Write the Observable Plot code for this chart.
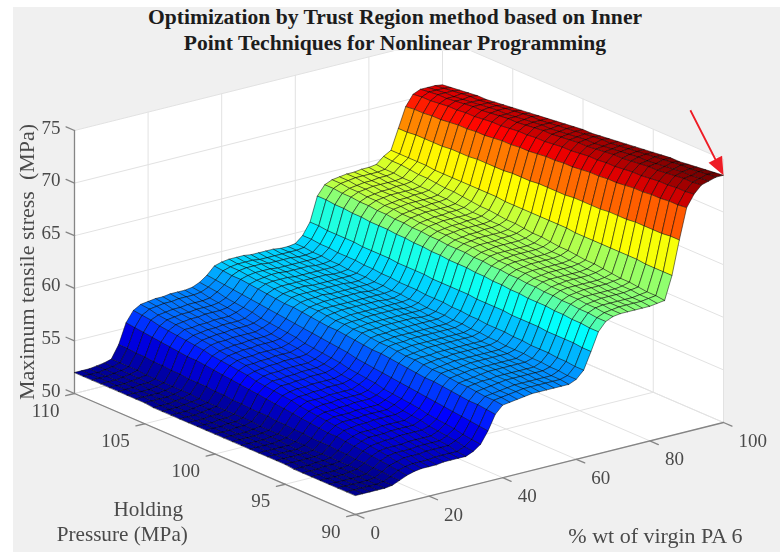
<!DOCTYPE html>
<html>
<head>
<meta charset="utf-8">
<script src="https://cdn.jsdelivr.net/npm/d3@7"></script>
<script src="https://cdn.jsdelivr.net/npm/@observablehq/plot@0.6"></script>
<style>
html,body{margin:0;padding:0;background:#fff;overflow:hidden;width:780px;height:552px}
#panel{position:absolute;left:13px;top:7px;width:767px;height:545px;background:#f0f0f0}
#title{position:absolute;left:13px;top:4px;width:764px;height:44px;z-index:2;text-align:center;
 font:bold 21.6px/26px "Liberation Serif",serif;color:#1c1c1c;margin:0;padding-left:0}
#chart{position:absolute;left:0;top:51px;width:780px;height:501px}
</style>
</head>
<body>
<div id="panel"></div>
<h1 id="title">Optimization by Trust Region method based on Inner<br>Point Techniques for Nonlinear Programming</h1>
<div id="chart"></div>
<script>
// Mesh
const wtPct = [0,2,4,6,8,10,12,14,16,18,20,22,24,26,28,30,32,34,36,38,40,42,44,46,48,50,52,54,56,58,60,62,64,66,68,70,72,74,76,78,80,82,84,86,88,90,92,94,96,98,100];
const pressure = [90,90.625,91.25,91.875,92.5,93.125,93.75,94.375,95,95.625,96.25,96.875,97.5,98.125,98.75,99.375,100,100.625,101.25,101.875,102.5,103.125,103.75,104.375,105,105.625,106.25,106.875,107.5,108.125,108.75,109.375,110];
const wtTicks = [0,20,40,60,80,100];
const pressureTicks = [90,95,100,105,110];
const stressTicks = [50,55,60,65,70,75];

// Maximum tensile stress (MPa): one row per wt %, one value per pressure
const s00 = [51.8,51.8,51.8,51.8,51.8,51.8,51.8,51.8,51.9,51.9,51.9,51.9,51.9,51.9,51.9,51.9,51.9,51.9,51.9,51.9,51.9,51.9,51.9,51.9,52,52,52,52,52,52,52,52,52];
const s06 = [51.8,51.8,51.8,51.8,51.8,51.8,51.9,51.9,51.9,51.9,51.9,51.9,51.9,51.9,51.9,51.9,52,52,52,52,52,52,52,52,52,52,52,52.1,52.1,52.1,52.1,52.1,52.1];
const s08 = [51.8,51.8,51.8,51.8,51.9,51.9,51.9,51.9,51.9,51.9,51.9,51.9,52,52,52,52,52,52,52,52,52.1,52.1,52.1,52.1,52.1,52.1,52.1,52.1,52.2,52.2,52.2,52.2,52.2];
const s10 = [51.9,51.9,51.9,51.9,52,52,52,52,52,52,52.1,52.1,52.1,52.1,52.1,52.1,52.2,52.2,52.2,52.2,52.2,52.2,52.2,52.3,52.3,52.3,52.3,52.3,52.3,52.4,52.4,52.4,52.4];
const s12 = [52.2,52.2,52.3,52.3,52.4,52.4,52.5,52.5,52.6,52.6,52.6,52.7,52.7,52.8,52.8,52.9,52.9,52.9,53,53,53.1,53.1,53.2,53.2,53.2,53.3,53.3,53.4,53.4,53.5,53.5,53.6,53.6];
const s14 = [52.5,52.6,52.7,52.8,52.9,53,53.1,53.2,53.3,53.3,53.4,53.5,53.6,53.7,53.8,53.9,54,54.1,54.2,54.3,54.4,54.5,54.6,54.7,54.8,54.8,54.9,55,55.1,55.2,55.3,55.4,55.5];
const s16 = [52.7,52.8,52.9,53.1,53.2,53.3,53.4,53.5,53.7,53.8,53.9,54,54.1,54.2,54.4,54.5,54.6,54.7,54.8,55,55.1,55.2,55.3,55.4,55.6,55.7,55.8,55.9,56,56.1,56.3,56.4,56.5];
const s18 = [52.8,52.9,53.1,53.2,53.3,53.4,53.6,53.7,53.8,54,54.1,54.2,54.3,54.5,54.6,54.7,54.9,55,55.1,55.2,55.4,55.5,55.6,55.7,55.9,56,56.1,56.3,56.4,56.5,56.6,56.8,56.9];
const s20 = [52.8,52.9,53.1,53.2,53.3,53.5,53.6,53.7,53.9,54,54.1,54.2,54.4,54.5,54.6,54.8,54.9,55,55.2,55.3,55.4,55.6,55.7,55.8,56,56.1,56.2,56.3,56.5,56.6,56.7,56.9,57];
const s22 = [52.8,52.9,53.1,53.2,53.3,53.5,53.6,53.7,53.9,54,54.1,54.3,54.4,54.5,54.7,54.8,55,55.1,55.2,55.4,55.5,55.6,55.8,55.9,56,56.2,56.3,56.4,56.6,56.7,56.8,57,57.1];
const s24 = [52.9,53,53.2,53.3,53.4,53.6,53.7,53.8,54,54.1,54.2,54.3,54.5,54.6,54.7,54.9,55,55.1,55.3,55.4,55.5,55.7,55.8,55.9,56.1,56.2,56.3,56.4,56.6,56.7,56.8,57,57.1];
const s26 = [52.9,53,53.2,53.3,53.4,53.6,53.7,53.8,54,54.1,54.2,54.4,54.5,54.6,54.8,54.9,55.1,55.2,55.3,55.5,55.6,55.7,55.9,56,56.1,56.3,56.4,56.5,56.7,56.8,56.9,57.1,57.2];
const s32 = [53.2,53.3,53.5,53.6,53.7,53.8,54,54.1,54.2,54.4,54.5,54.6,54.7,54.9,55,55.1,55.3,55.4,55.5,55.6,55.8,55.9,56,56.1,56.3,56.4,56.5,56.7,56.8,56.9,57,57.2,57.3];
const s34 = [53.7,53.8,53.9,54.1,54.2,54.3,54.4,54.6,54.7,54.8,54.9,55,55.2,55.3,55.4,55.5,55.7,55.8,55.9,56,56.1,56.3,56.4,56.5,56.6,56.7,56.9,57,57.1,57.2,57.4,57.5,57.6];
const s36 = [54.8,54.9,55,55.1,55.2,55.3,55.4,55.5,55.6,55.7,55.8,55.9,56,56.1,56.2,56.3,56.5,56.6,56.7,56.8,56.9,57,57.1,57.2,57.3,57.4,57.5,57.6,57.7,57.8,57.9,58,58.1];
const s38 = [56.2,56.3,56.4,56.4,56.5,56.6,56.7,56.8,56.8,56.9,57,57.1,57.2,57.3,57.3,57.4,57.5,57.6,57.7,57.7,57.8,57.9,58,58.1,58.1,58.2,58.3,58.4,58.5,58.6,58.6,58.7,58.8];
const s40 = [56.9,57,57,57.1,57.2,57.2,57.3,57.4,57.4,57.5,57.6,57.6,57.7,57.8,57.8,57.9,58,58,58.1,58.1,58.2,58.3,58.3,58.4,58.5,58.5,58.6,58.7,58.7,58.8,58.9,58.9,59];
const s42 = [57,57.1,57.1,57.2,57.3,57.3,57.4,57.5,57.5,57.6,57.7,57.7,57.8,57.9,57.9,58,58.1,58.1,58.2,58.2,58.3,58.4,58.4,58.5,58.6,58.6,58.7,58.8,58.8,58.9,59,59,59.1];
const s44 = [57.1,57.2,57.2,57.3,57.4,57.4,57.5,57.5,57.6,57.7,57.7,57.8,57.9,57.9,58,58,58.1,58.2,58.2,58.3,58.4,58.4,58.5,58.5,58.6,58.7,58.7,58.8,58.9,58.9,59,59,59.1];
const s46 = [57.2,57.3,57.3,57.4,57.4,57.5,57.6,57.6,57.7,57.7,57.8,57.9,57.9,58,58,58.1,58.2,58.2,58.3,58.3,58.4,58.4,58.5,58.6,58.6,58.7,58.7,58.8,58.9,58.9,59,59,59.1];
const s48 = [57.3,57.4,57.4,57.5,57.5,57.6,57.6,57.7,57.7,57.8,57.8,57.9,57.9,58,58,58.1,58.2,58.2,58.3,58.3,58.4,58.4,58.5,58.5,58.6,58.6,58.7,58.7,58.8,58.8,58.9,58.9,59];
const s56 = [57.3,57.4,57.4,57.5,57.5,57.6,57.6,57.7,57.7,57.8,57.8,57.9,57.9,58,58,58.1,58.1,58.2,58.2,58.3,58.3,58.4,58.4,58.5,58.5,58.6,58.6,58.7,58.7,58.8,58.8,58.9,58.9];
const s60 = [57.6,57.6,57.7,57.7,57.8,57.8,57.9,57.9,57.9,58,58,58.1,58.1,58.2,58.2,58.3,58.3,58.3,58.4,58.4,58.5,58.5,58.6,58.6,58.7,58.7,58.7,58.8,58.8,58.9,58.9,59,59];
const s62 = [58.3,58.3,58.4,58.4,58.5,58.5,58.5,58.6,58.6,58.7,58.7,58.7,58.8,58.8,58.9,58.9,59,59,59,59.1,59.1,59.1,59.2,59.2,59.3,59.3,59.4,59.4,59.4,59.5,59.5,59.6,59.6];
const s64 = [59.9,59.9,60,60,60,60,60.1,60.1,60.1,60.1,60.2,60.2,60.2,60.2,60.3,60.3,60.3,60.3,60.3,60.4,60.4,60.4,60.4,60.5,60.5,60.5,60.5,60.6,60.6,60.6,60.6,60.7,60.7];
const s66 = [61.6,61.6,61.7,61.7,61.8,61.8,61.9,61.9,61.9,62,62,62.1,62.1,62.2,62.2,62.3,62.3,62.3,62.4,62.4,62.5,62.5,62.6,62.6,62.7,62.7,62.7,62.8,62.8,62.9,62.9,63,63];
const s68 = [62.4,62.4,62.5,62.5,62.6,62.6,62.7,62.7,62.8,62.8,62.9,62.9,63,63,63.1,63.1,63.2,63.2,63.2,63.3,63.3,63.4,63.4,63.5,63.5,63.6,63.6,63.7,63.7,63.8,63.8,63.9,63.9];
const s70 = [62.7,62.7,62.8,62.8,62.9,62.9,63,63,63.1,63.1,63.2,63.2,63.3,63.3,63.4,63.4,63.5,63.5,63.5,63.6,63.6,63.7,63.7,63.8,63.8,63.9,63.9,64,64,64.1,64.1,64.2,64.2];
const s72 = [62.8,62.8,62.9,62.9,63,63,63.1,63.1,63.2,63.2,63.3,63.3,63.4,63.4,63.5,63.5,63.6,63.6,63.6,63.7,63.7,63.8,63.8,63.9,63.9,64,64,64.1,64.1,64.2,64.2,64.3,64.3];
const s74 = [62.8,62.9,62.9,63,63,63.1,63.1,63.2,63.2,63.3,63.3,63.4,63.4,63.5,63.5,63.6,63.6,63.7,63.7,63.8,63.8,63.9,63.9,64,64,64.1,64.1,64.2,64.2,64.3,64.3,64.4,64.4];
const s78 = [62.8,62.9,62.9,63,63,63.1,63.1,63.2,63.2,63.3,63.3,63.4,63.4,63.5,63.5,63.6,63.7,63.7,63.8,63.8,63.9,63.9,64,64,64.1,64.1,64.2,64.2,64.3,64.3,64.4,64.4,64.5];
const s82 = [62.9,63,63,63.1,63.1,63.2,63.2,63.3,63.3,63.4,63.4,63.5,63.5,63.6,63.6,63.7,63.8,63.8,63.9,63.9,64,64,64.1,64.1,64.2,64.2,64.3,64.3,64.4,64.4,64.5,64.5,64.6];
const s84 = [63,63.1,63.1,63.2,63.3,63.3,63.4,63.5,63.6,63.6,63.7,63.8,63.8,63.9,64,64,64.1,64.2,64.2,64.3,64.4,64.4,64.5,64.6,64.7,64.7,64.8,64.9,64.9,65,65.1,65.1,65.2];
const s86 = [65.2,65.2,65.2,65.2,65.3,65.3,65.3,65.3,65.3,65.3,65.3,65.3,65.4,65.4,65.4,65.4,65.4,65.4,65.4,65.4,65.5,65.5,65.5,65.5,65.5,65.5,65.5,65.5,65.6,65.6,65.6,65.6,65.6];
const s88 = [68.4,68.4,68.3,68.3,68.3,68.3,68.2,68.2,68.2,68.1,68.1,68.1,68.1,68,68,68,68,67.9,67.9,67.9,67.8,67.8,67.8,67.8,67.7,67.7,67.7,67.6,67.6,67.6,67.6,67.5,67.5];
const s90 = [71.3,71.2,71.2,71.1,71.1,71,71,70.9,70.8,70.8,70.7,70.7,70.6,70.5,70.5,70.4,70.4,70.3,70.2,70.2,70.1,70.1,70,69.9,69.9,69.8,69.8,69.7,69.6,69.6,69.5,69.5,69.4];
const s92 = [72.4,72.3,72.3,72.2,72.2,72.1,72,72,71.9,71.8,71.8,71.7,71.7,71.6,71.5,71.5,71.4,71.3,71.3,71.2,71.2,71.1,71,71,70.9,70.8,70.8,70.7,70.7,70.6,70.5,70.5,70.4];
const s94 = [73.1,73,73,72.9,72.8,72.7,72.7,72.6,72.5,72.4,72.4,72.3,72.2,72.1,72.1,72,71.9,71.8,71.8,71.7,71.6,71.5,71.5,71.4,71.3,71.2,71.2,71.1,71,70.9,70.9,70.8,70.7];
const s96 = [73.3,73.2,73.1,73.1,73,72.9,72.8,72.7,72.7,72.6,72.5,72.4,72.3,72.2,72.2,72.1,72,71.9,71.8,71.8,71.7,71.6,71.5,71.4,71.4,71.3,71.2,71.1,71,70.9,70.9,70.8,70.7];
const s98 = [73.5,73.4,73.3,73.2,73.2,73.1,73,72.9,72.8,72.7,72.6,72.5,72.4,72.4,72.3,72.2,72.1,72,71.9,71.8,71.7,71.7,71.6,71.5,71.4,71.3,71.2,71.1,71.1,71,70.9,70.8,70.7];
const s100 = [73.5,73.4,73.3,73.2,73.1,73,73,72.9,72.8,72.7,72.6,72.5,72.4,72.3,72.2,72.1,72.1,72,71.9,71.8,71.7,71.6,71.5,71.4,71.3,71.2,71.1,71,71,70.9,70.8,70.7,70.6];
const stress = [s00,s00,s00,s06,s08,s10,s12,s14,s16,s18,s20,s22,s24,s26,s26,s26,s32,s34,s36,s38,s40,s42,s44,s46,s48,s48,s48,s48,s56,s56,s60,s62,s64,s66,s68,s70,s72,s74,s74,s78,s78,s82,s84,s86,s88,s90,s92,s94,s96,s98,s100];

// MATLAB jet colormap stops across the surface's stress range
const jetShare = [0,0.11,0.375,0.625,0.84,1];
const jetColors = ["#00008f","#0000ff","#00ffff","#ffff00","#ff0000","#700000"];

// Oblique view of the box (no perspective): page position of a (wt, pressure, stress) point
const view = {x0:74, y0:393, xPerWt:3.68, yPerWt:-0.92, xPerP:14.05, yPerP:6.05, yPerS:10.52};
const px = (w,p) => view.x0 + w*view.xPerWt + (110-p)*view.xPerP;
const py = (w,p,s) => view.y0 + w*view.yPerWt + (110-p)*view.yPerP - (s-50)*view.yPerS;
const pt = (w,p,s,id,extra) => ({px:px(w,p), py:py(w,p,s), id, ...extra});

// Surface cells, painted from the far corner to the near one
const cells = [];
for (let i = wtPct.length-2; i >= 0; i--) {
  for (let j = pressure.length-2; j >= 0; j--) {
    const id = i*100+j, level = stress[i][j];
    for (const [a,b] of [[i,j],[i+1,j],[i+1,j+1],[i,j+1]])
      cells.push(pt(wtPct[a],pressure[b],stress[a][b],id,{level}));
  }
}

const wMax = 100, wMin = 0, pMax = 110, pMin = 90, sMin = 50, sMax = 75;
const walls = [
  [[wMin,pMax,sMin],[wMax,pMax,sMin],[wMax,pMax,sMax],[wMin,pMax,sMax]],
  [[wMax,pMax,sMin],[wMax,pMin,sMin],[wMax,pMin,sMax],[wMax,pMax,sMax]],
  [[wMin,pMax,sMin],[wMin,pMin,sMin],[wMax,pMin,sMin],[wMax,pMax,sMin]]
].flatMap((c,k) => c.map(v => pt(v[0],v[1],v[2],k)));

const seg = (list, a, b) => { const id = list.length; list.push(pt(...a,id), pt(...b,id)); };
const grid = [], axes = [];
for (const w of wtTicks) { seg(grid,[w,pMin,sMin],[w,pMax,sMin]); seg(grid,[w,pMax,sMin],[w,pMax,sMax]); seg(axes,[w,pMin,sMin],[w,pMin-0.6,sMin]); }
for (const p of pressureTicks) { seg(grid,[wMin,p,sMin],[wMax,p,sMin]); seg(grid,[wMax,p,sMin],[wMax,p,sMax]); seg(axes,[wMin,p,sMin],[wMin-2.4,p,sMin]); }
for (const s of stressTicks) { seg(grid,[wMin,pMax,s],[wMax,pMax,s]); seg(grid,[wMax,pMax,s],[wMax,pMin,s]); seg(axes,[wMin,pMax,s],[wMin,pMax+0.6,s]); }
seg(axes,[wMin,pMax,sMin],[wMin,pMax,sMax]);
seg(axes,[wMin,pMax,sMin],[wMin,pMin,sMin]);
seg(axes,[wMin,pMin,sMin],[wMax,pMin,sMin]);

const labelFont = {fontFamily:"Liberation Serif", fill:"#4a4a4a", fontSize:19};
const lo = d3.min(stress.flat()), hi = d3.max(stress.flat());

const chart = Plot.plot({
  width:780, height:501, margin:0,
  style:{background:"transparent", whiteSpace:"pre", filter:"blur(0.5px)"},
  x:{domain:[0,780], range:[0,780], axis:null},
  y:{domain:[51,552], range:[0,501], axis:null},
  color:{type:"linear", domain:jetShare.map(f => lo+f*(hi-lo)), range:jetColors},
  marks:[
    Plot.line(walls,{x:"px",y:"py",z:"id",curve:"linear-closed",fill:"#fff",stroke:"none",clip:true}),
    Plot.line(grid,{x:"px",y:"py",z:"id",stroke:"#e2e2e2",strokeWidth:1,clip:true}),
    Plot.line(axes,{x:"px",y:"py",z:"id",stroke:"#858585",strokeWidth:1.3}),
    Plot.line(cells,{x:"px",y:"py",z:"id",curve:"linear-closed",fill:"level",stroke:"#000",strokeWidth:0.85,strokeOpacity:0.6,strokeLinejoin:"round"}),
    Plot.text(stressTicks,{x:()=>px(wMin,pMax),y:s=>py(wMin,pMax,s),text:d=>String(d),textAnchor:"end",dx:-14,dy:-3,...labelFont}),
    Plot.text(pressureTicks,{x:p=>px(wMin,p),y:p=>py(wMin,p,sMin),text:d=>String(d),textAnchor:"end",dx:-15,dy:17,...labelFont}),
    Plot.text(wtTicks,{x:w=>px(w,pMin),y:w=>py(w,pMin,sMin),text:d=>String(d),textAnchor:"start",dx:15,dy:18.5,...labelFont}),
    Plot.text(["Maximum tensile stress  (MPa)"],{x:()=>px(wMin,pMax),y:()=>py(wMin,pMax,62.5),rotate:-90,dx:-48,...labelFont,fontSize:22}),
    Plot.text(["Holding"],{x:()=>px(wMin,95),y:()=>py(wMin,95,sMin),dx:-137,dy:25,...labelFont,fontSize:21.2}),
    Plot.text(["Pressure (MPa)"],{x:()=>px(wMin,95),y:()=>py(wMin,95,sMin),dx:-163,dy:50,...labelFont,fontSize:21.2}),
    Plot.text(["% wt of virgin PA 6"],{x:()=>px(80,pMin),y:()=>py(80,pMin,sMin),dx:5.5,dy:95,...labelFont,fontSize:22}),
    Plot.vector([[wMax,pMin,73.5]],{
      x:d=>px(d[0],d[1]), y:d=>py(d[0],d[1],d[2]),
      anchor:"end", length:73, rotate:153,
      fill:"#ee1c25", stroke:"none",
      shape:{draw(c,l){const h=l-18; c.moveTo(-0.9,0);c.lineTo(-0.9,-h);c.lineTo(-7.6,-h);c.lineTo(0,-l);c.lineTo(7.6,-h);c.lineTo(0.9,-h);c.lineTo(0.9,0);c.closePath();}}
    })
  ]
});
document.getElementById("chart").append(chart);
</script>
</body>
</html>
